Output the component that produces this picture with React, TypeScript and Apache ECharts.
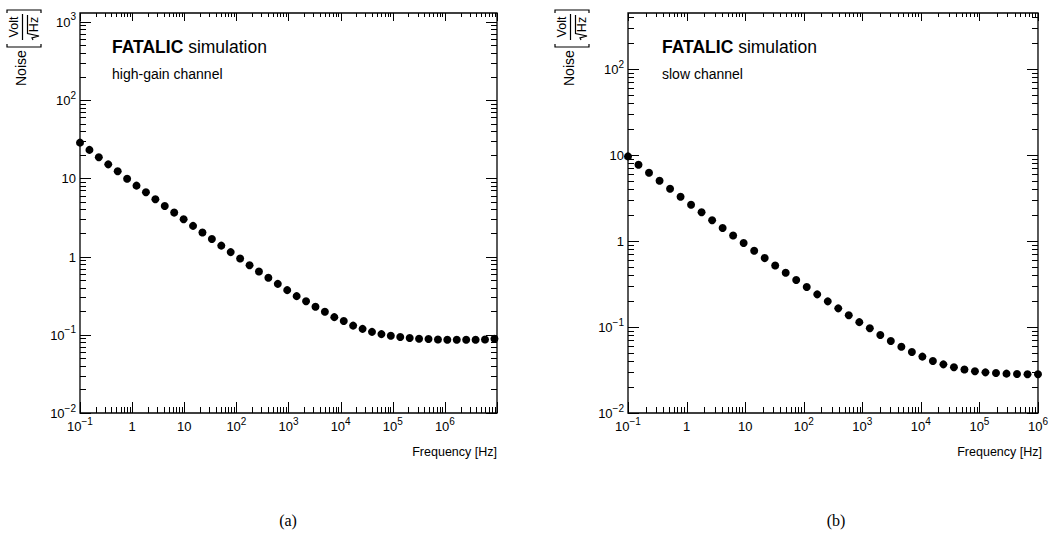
import React, { useEffect, useRef } from 'react';
import * as echarts from 'echarts';

// ---- data ----
const freqA = [
  0.1, 0.1516, 0.2298, 0.3484, 0.5282, 0.8009, 1.214, 1.84, 2.79, 4.23,
  6.412, 9.721, 14.74, 22.34, 33.87, 51.34, 77.84, 118.0, 178.9, 271.2,
  411.1, 623.3, 944.9, 1433, 2172, 3293, 4992, 7568, 11470, 17390,
  26370, 39980, 60600, 91870, 139300, 211100, 320100, 485200, 735600, 1115000,
  1690000, 2563000, 3885000, 5890000, 8929000,
];
const noiseA = [
  28.6, 23.1, 18.6, 15.1, 12.3, 9.9, 8.07, 6.64, 5.41, 4.44,
  3.65, 3.0, 2.47, 2.03, 1.68, 1.38, 1.14, 0.943, 0.776, 0.643,
  0.535, 0.448, 0.372, 0.312, 0.268, 0.228, 0.197, 0.168, 0.15, 0.131,
  0.119, 0.109, 0.102, 0.0971, 0.0935, 0.0908, 0.0889, 0.0882, 0.0871, 0.0864,
  0.0864, 0.0864, 0.0864, 0.0871, 0.0889,
];
const freqB = [
  0.1, 0.1512, 0.2286, 0.3455, 0.5224, 0.7898, 1.194, 1.805, 2.729, 4.126,
  6.237, 9.43, 14.26, 21.55, 32.58, 49.26, 74.47, 112.6, 170.2, 257.4,
  389.0, 588.2, 889.3, 1345, 2032, 3073, 4645, 7023, 10620, 16050,
  24270, 36690, 55460, 83850, 126800, 191700, 289700, 438000, 662200, 1000000,
];
const noiseB = [
  9.66, 7.73, 6.24, 5.04, 4.07, 3.28, 2.65, 2.16, 1.75, 1.42,
  1.16, 0.948, 0.773, 0.634, 0.521, 0.429, 0.352, 0.292, 0.24, 0.199,
  0.165, 0.137, 0.114, 0.097, 0.0807, 0.0687, 0.0591, 0.0512, 0.0453, 0.0403,
  0.0368, 0.034, 0.032, 0.0306, 0.0297, 0.0292, 0.0287, 0.0284, 0.0282, 0.0282,
];
const xRangeA = [0.1, 1e7];
const yRangeA = [0.01, 1300];
const xRangeB = [0.1, 1e6];
const yRangeB = [0.01, 450];
const titleMain = ['FATALIC', ' simulation'];
const subtitles = ['high-gain channel', 'slow channel'];
const panelLabels = ['(a)', '(b)'];
const xTitle = 'Frequency [Hz]';

const FONT = '"Liberation Sans", Arial, Helvetica, sans-serif';

function tickList(lo: number, hi: number) {
  const out: { v: number; major: boolean }[] = [];
  const e0 = Math.floor(Math.log10(lo)) - 1;
  const e1 = Math.ceil(Math.log10(hi)) + 1;
  for (let e = e0; e <= e1; e++) {
    for (let k = 1; k <= 9; k++) {
      const v = k * Math.pow(10, e);
      if (v >= lo * 0.9999 && v <= hi * 1.0001) out.push({ v, major: k === 1 });
    }
  }
  return out;
}

const fmtPow = (v: number) => {
  const e = Math.round(Math.log10(v));
  if (e === 0) return '{n|1}';
  if (e === 1) return '{n|10}';
  return `{n|10}{s|${e < 0 ? '\u2212' + -e : e}}`;
};

const rich = {
  n: { fontSize: 13, fontFamily: FONT, color: '#000', verticalAlign: 'bottom', lineHeight: 14 },
  s: { fontSize: 10, fontFamily: FONT, color: '#000', verticalAlign: 'bottom', lineHeight: 11, padding: [0, 0, 7, 0] },
};

function xTickSeries(idx: number, lo: number, hi: number, yRef: number) {
  return {
    type: 'custom',
    xAxisIndex: idx,
    yAxisIndex: idx,
    silent: true,
    clip: false,
    z: 5,
    data: tickList(lo, hi).map((t) => [t.v, yRef, t.major ? 1 : 0]),
    renderItem: (params: any, api: any) => {
      const cs = params.coordSys;
      const px = Math.round(api.coord([api.value(0), api.value(1)])[0]) + 0.5;
      const major = api.value(2) === 1;
      const lb = major ? 11 : 6;
      const lt = major ? 8 : 4;
      const bottom = cs.y + cs.height;
      const st = { stroke: '#000', lineWidth: 1 };
      return {
        type: 'group',
        children: [
          { type: 'line', shape: { x1: px, y1: bottom, x2: px, y2: bottom - lb }, style: st },
          { type: 'line', shape: { x1: px, y1: cs.y, x2: px, y2: cs.y + lt }, style: st },
        ],
      };
    },
  };
}

function yTickSeries(idx: number, lo: number, hi: number, xRef: number) {
  return {
    type: 'custom',
    xAxisIndex: idx,
    yAxisIndex: idx,
    silent: true,
    clip: false,
    z: 5,
    data: tickList(lo, hi).map((t) => [xRef, t.v, t.major ? 1 : 0]),
    renderItem: (params: any, api: any) => {
      const cs = params.coordSys;
      const py = Math.round(api.coord([api.value(0), api.value(1)])[1]) + 0.5;
      const major = api.value(2) === 1;
      const l = major ? 11 : 6;
      const right = cs.x + cs.width;
      const st = { stroke: '#000', lineWidth: 1 };
      return {
        type: 'group',
        children: [
          { type: 'line', shape: { x1: cs.x, y1: py, x2: cs.x + l, y2: py }, style: st },
          { type: 'line', shape: { x1: right, y1: py, x2: right - l, y2: py }, style: st },
        ],
      };
    },
  };
}

function yTitle(x: number, y: number) {
  const st = { stroke: '#000', lineWidth: 1.2, fill: null };
  return {
    type: 'group',
    x,
    y,
    rotation: Math.PI / 2,
    children: [
      { type: 'text', x: 0, y: 0, style: { text: 'Noise', fontSize: 14, fontFamily: FONT, fill: '#000', align: 'left', verticalAlign: 'middle' } },
      { type: 'polyline', shape: { points: [[42, -14], [39, -14], [39, 20], [42, 20]] }, style: st },
      { type: 'text', x: 59, y: -7, style: { text: 'Volt', fontSize: 12.5, fontFamily: FONT, fill: '#000', align: 'center', verticalAlign: 'middle' } },
      { type: 'line', shape: { x1: 46, y1: 1.5, x2: 72, y2: 1.5 }, style: st },
      { type: 'polyline', shape: { points: [[46, 12], [48, 11], [50, 18], [52.5, 6.5], [71, 6.5]] }, style: st },
      { type: 'text', x: 61.5, y: 13, style: { text: 'Hz', fontSize: 12.5, fontFamily: FONT, fill: '#000', align: 'center', verticalAlign: 'middle' } },
      { type: 'polyline', shape: { points: [[73, -14], [76, -14], [76, 20], [73, 20]] }, style: st },
    ],
  };
}

function panelTexts(x0: number, sub: string) {
  return [
    {
      type: 'text',
      x: x0,
      y: 47,
      style: {
        text: `{b|${titleMain[0]}}{r|${titleMain[1]}}`,
        rich: {
          b: { fontSize: 17.5, fontWeight: 'bold', fontFamily: FONT, fill: '#000' },
          r: { fontSize: 17.5, fontFamily: FONT, fill: '#000' },
        },
        align: 'left',
        verticalAlign: 'middle',
      },
    },
    {
      type: 'text',
      x: x0,
      y: 74,
      style: { text: sub, fontSize: 14, fontFamily: FONT, fill: '#000', align: 'left', verticalAlign: 'middle' },
    },
  ];
}

export default function App() {
  const ref = useRef<HTMLDivElement>(null);
  useEffect(() => {
    if (!ref.current) return;
    const chart = echarts.init(ref.current, null, { renderer: 'svg' });
    const grids = [
      { left: 80, top: 13, width: 417, height: 400 },
      { left: 628, top: 13, width: 414, height: 400 },
    ];
    const xAxisBase = (idx: number, r: number[], showMax: boolean) => ({
      type: 'log',
      logBase: 10,
      gridIndex: idx,
      min: r[0],
      max: r[1],
      axisLine: { show: false },
      axisTick: { show: false },
      splitLine: { show: false },
      axisLabel: { formatter: fmtPow, rich, margin: 6, showMaxLabel: showMax, showMinLabel: true, color: '#000' },
    });
    const yAxisBase = (idx: number, r: number[]) => ({
      type: 'log',
      logBase: 10,
      gridIndex: idx,
      min: r[0],
      max: r[1],
      axisLine: { show: false },
      axisTick: { show: false },
      splitLine: { show: false },
      axisLabel: { formatter: fmtPow, rich, margin: 4, showMaxLabel: false, showMinLabel: true, color: '#000' },
    });
    chart.setOption({
      animation: false,
      backgroundColor: '#fff',
      grid: grids.map((g) => ({ ...g, show: true, borderColor: '#000', borderWidth: 1.3, backgroundColor: 'transparent' })),
      xAxis: [xAxisBase(0, xRangeA, false), xAxisBase(1, xRangeB, true)],
      yAxis: [yAxisBase(0, yRangeA), yAxisBase(1, yRangeB)],
      series: [
        {
          type: 'scatter',
          xAxisIndex: 0,
          yAxisIndex: 0,
          symbol: 'circle',
          symbolSize: 8,
          itemStyle: { color: '#000', opacity: 1 },
          z: 10,
          data: freqA.map((f, i) => [f, noiseA[i]]),
        },
        {
          type: 'scatter',
          xAxisIndex: 1,
          yAxisIndex: 1,
          symbol: 'circle',
          symbolSize: 8,
          itemStyle: { color: '#000', opacity: 1 },
          z: 10,
          clip: false,
          data: freqB.map((f, i) => [f, noiseB[i]]),
        },
        xTickSeries(0, xRangeA[0], xRangeA[1], 1),
        yTickSeries(0, yRangeA[0], yRangeA[1], 1),
        xTickSeries(1, xRangeB[0], xRangeB[1], 1),
        yTickSeries(1, yRangeB[0], yRangeB[1], 1),
      ],
      graphic: [
        ...panelTexts(112, subtitles[0]),
        ...panelTexts(662, subtitles[1]),
        yTitle(21, 86),
        yTitle(569, 86),
        { type: 'text', x: 497, y: 452, style: { text: xTitle, fontSize: 12.5, fontFamily: FONT, fill: '#000', align: 'right', verticalAlign: 'middle' } },
        { type: 'text', x: 1042, y: 452, style: { text: xTitle, fontSize: 12.5, fontFamily: FONT, fill: '#000', align: 'right', verticalAlign: 'middle' } },
        { type: 'text', x: 288, y: 520, style: { text: panelLabels[0], fontSize: 16, fontFamily: '"Liberation Serif", "Times New Roman", serif', fill: '#000', align: 'center', verticalAlign: 'middle' } },
        { type: 'text', x: 836, y: 520, style: { text: panelLabels[1], fontSize: 16, fontFamily: '"Liberation Serif", "Times New Roman", serif', fill: '#000', align: 'center', verticalAlign: 'middle' } },
      ],
    });
    return () => chart.dispose();
  }, []);
  return <div ref={ref} style={{ position: 'fixed', left: 0, top: 0, width: 1051, height: 535 }} />;
}
